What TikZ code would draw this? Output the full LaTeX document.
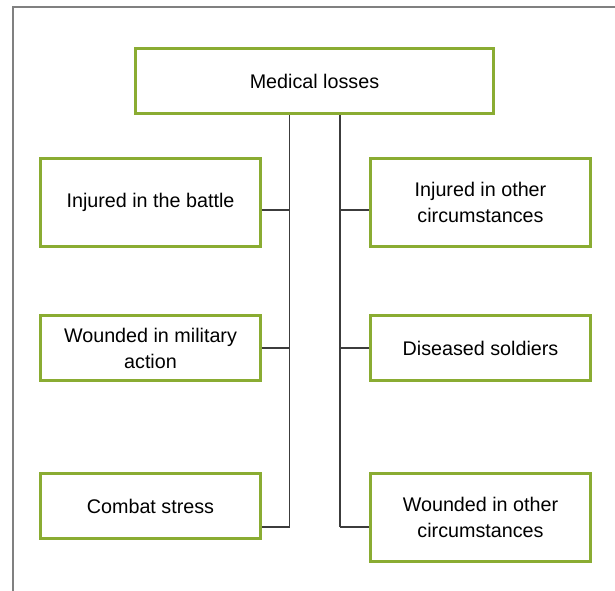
\documentclass[tikz,border=0pt]{standalone}
\usepackage{fontspec}
\setmainfont{Liberation Sans}
\usepackage{xcolor}
\usepackage{tikz}
\usetikzlibrary{positioning,calc}

\definecolor{boxgreen}{RGB}{138,172,50}
\definecolor{linkgray}{RGB}{60,60,60}
\definecolor{framegray}{RGB}{128,128,128}

\begin{document}
\begin{tikzpicture}[
  x=0.75pt, y=-0.75pt,
  every node/.style={font=\fontsize{14.8}{19.5}\selectfont},
  box/.style={draw=boxgreen, line width=2.25pt, fill=white, align=center,
    minimum width=165pt, minimum height=48.75pt, inner sep=0pt},
  tall/.style={minimum height=66pt},
  link/.style={draw=linkgray, line width=1.2pt},
  frame/.style={draw=framegray, line width=1.5pt}
]
\useasboundingbox (0,0) rectangle (615,590);

% Frame
\draw[frame] (13,600) -- (13,7) -- (625,7);

% Root
\node[box, minimum width=268.5pt] (losses) at (314.5,81) {Medical losses};

% Left column
\node[box, tall] (battle) at (150.5,202.5) {Injured in the battle};
\node[box] (military) at (150.5,348) {Wounded in military\\action};
\node[box] (stress) at (150.5,506) {Combat stress};

% Right column
\node[box, tall] (otherinj) at (480.5,202.5) {Injured in other\\circumstances};
\node[box] (diseased) at (480.5,348) {Diseased soldiers};
\node[box, tall] (otherwnd) at (480.5,517.5) {Wounded in other\\circumstances};

% Trunks
\coordinate (ltrunk) at (289.5,527);
\coordinate (rtrunk) at (340,527);
\draw[link] (losses.south -| ltrunk) -- (ltrunk);
\draw[link] (losses.south -| rtrunk) -- (rtrunk);

% Branches
\foreach \n/\d in {battle/7.5, military/0, stress/21}
  \draw[link] ($(\n.east)+(0,\d)$) -| (ltrunk);
\foreach \n/\d in {otherinj/7.5, diseased/0, otherwnd/9.5}
  \draw[link] ($(\n.west)+(0,\d)$) -| (rtrunk);

\end{tikzpicture}
\end{document}
